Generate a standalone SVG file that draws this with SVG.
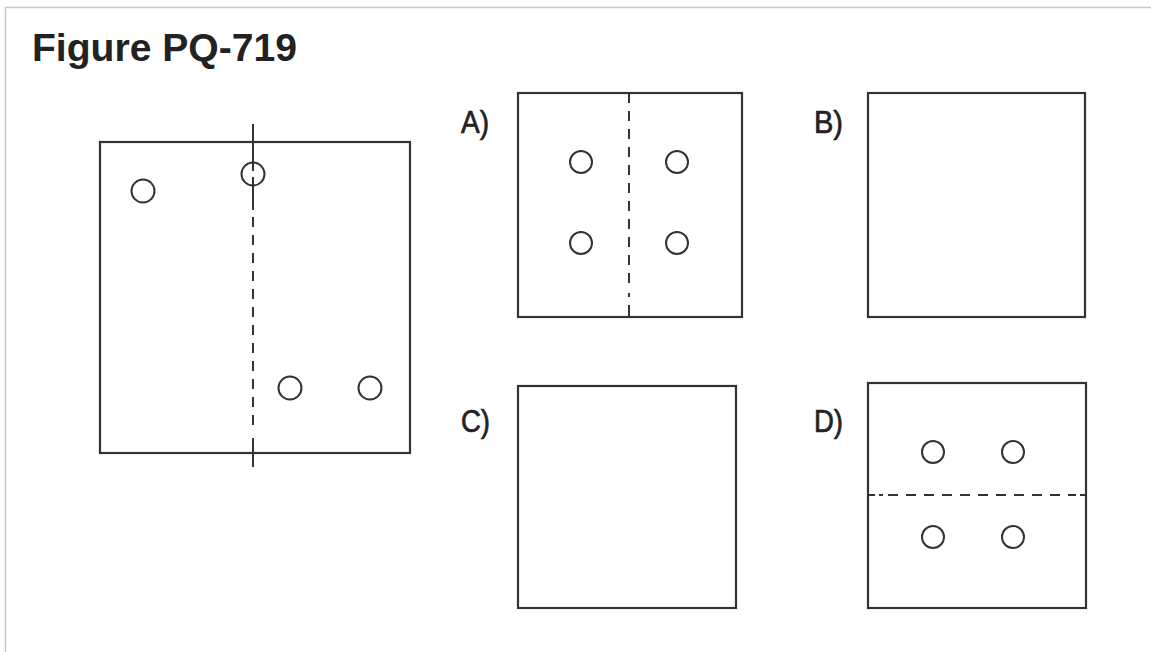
<svg xmlns="http://www.w3.org/2000/svg" width="1151" height="652" viewBox="0 0 1151 652">
<style>
.box{fill:none;stroke:#333;stroke-width:2.2}
.hole{fill:none;stroke:#333;stroke-width:2}
.ln{stroke:#333;stroke-width:2;fill:none}
.dash{stroke:#333;stroke-width:2;fill:none;stroke-dasharray:10 8}
.lbl{font-family:"Liberation Sans",Arial,sans-serif;fill:#222}
.opt{stroke:#222;stroke-width:0.7}
</style>
<rect x="0" y="0" width="1151" height="652" fill="#fff"/>
<path d="M5.5 652 V7.5 H1151" fill="none" stroke="#c8c8c8" stroke-width="1.5"/>
<text class="lbl" x="32" y="61" font-size="38" font-weight="bold" textLength="265" lengthAdjust="spacingAndGlyphs">Figure PQ-719</text>

<g id="main">
<rect class="box" x="100" y="142" width="310" height="311"/>
<circle class="hole" cx="143" cy="191" r="11.5"/>
<circle class="hole" cx="253" cy="174" r="11.5"/>
<circle class="hole" cx="290" cy="388" r="11.5"/>
<circle class="hole" cx="370" cy="388" r="11.5"/>
<line class="ln" x1="253" y1="124" x2="253" y2="171"/>
<line class="ln" x1="253" y1="177" x2="253" y2="210"/>
<line class="dash" x1="253" y1="217" x2="253" y2="433"/>
<line class="ln" x1="253" y1="438" x2="253" y2="467"/>
</g>

<g id="optA">
<text class="lbl opt" x="461" y="133" font-size="31" textLength="28" lengthAdjust="spacingAndGlyphs">A)</text>
<rect class="box" x="518" y="93" width="224" height="224"/>
<line class="dash" x1="629" y1="93" x2="629" y2="290"/>
<line class="ln" x1="629" y1="293" x2="629" y2="297"/>
<line class="ln" x1="629" y1="305" x2="629" y2="317"/>
<circle class="hole" cx="581" cy="162" r="11"/>
<circle class="hole" cx="677" cy="162" r="11"/>
<circle class="hole" cx="581" cy="243" r="11"/>
<circle class="hole" cx="677" cy="243" r="11"/>
</g>

<g id="optB">
<text class="lbl opt" x="814" y="133" font-size="31" textLength="29" lengthAdjust="spacingAndGlyphs">B)</text>
<rect class="box" x="868" y="93" width="217" height="224"/>
</g>

<g id="optC">
<text class="lbl opt" x="461" y="432" font-size="31" textLength="29" lengthAdjust="spacingAndGlyphs">C)</text>
<rect class="box" x="518" y="386" width="218" height="222"/>
</g>

<g id="optD">
<text class="lbl opt" x="814" y="432" font-size="31" textLength="29" lengthAdjust="spacingAndGlyphs">D)</text>
<rect class="box" x="868" y="383" width="218" height="225"/>
<line class="ln" x1="868" y1="495" x2="875" y2="495"/>
<line class="ln" x1="879" y1="495" x2="883" y2="495"/>
<line class="dash" x1="888" y1="495" x2="1076" y2="495"/>
<line class="ln" x1="1080" y1="495" x2="1086" y2="495"/>
<circle class="hole" cx="933" cy="452" r="11"/>
<circle class="hole" cx="1013" cy="452" r="11"/>
<circle class="hole" cx="933" cy="537" r="11"/>
<circle class="hole" cx="1013" cy="537" r="11"/>
</g>
<g id="connectors"></g>
</svg>
